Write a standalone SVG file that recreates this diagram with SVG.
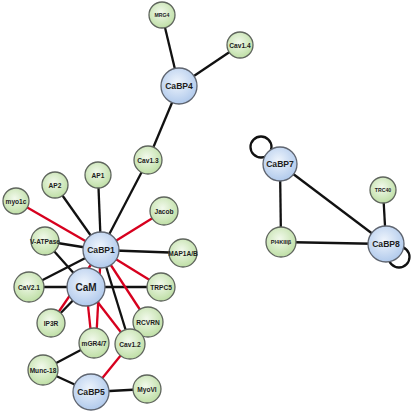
<svg xmlns="http://www.w3.org/2000/svg" width="412" height="412" viewBox="0 0 412 412">
<defs>
<radialGradient id="gG" cx="45%" cy="40%" r="60%">
<stop offset="0" stop-color="#f2f9ec"/>
<stop offset="1" stop-color="#bfdfa6"/>
</radialGradient>
<radialGradient id="gB" cx="45%" cy="40%" r="60%">
<stop offset="0" stop-color="#eef4fc"/>
<stop offset="1" stop-color="#b1caec"/>
</radialGradient>
<style>
.e{stroke:#111;stroke-width:2.3;fill:none}
.r{stroke:#d7001e;stroke-width:2.3;fill:none}
.g{fill:url(#gG);stroke:#5f655d;stroke-width:1.3}
.b{fill:url(#gB);stroke:#5f6570;stroke-width:1.3}
text{font-family:"Liberation Sans",Arial,sans-serif;font-weight:bold;fill:#1c1c1c;text-anchor:middle;dominant-baseline:central}
.s{font-size:6.6px}
.t{font-size:5.2px}
.m{font-size:8.6px}
</style>
</defs>
<g id="edges">
<line class="e" x1="179" y1="86" x2="162" y2="15"/>
<line class="e" x1="179" y1="86" x2="240" y2="45"/>
<line class="e" x1="179" y1="86" x2="148" y2="160"/>
<line class="e" x1="101" y1="250" x2="148" y2="160"/>
<line class="e" x1="101" y1="250" x2="98" y2="175"/>
<line class="e" x1="101" y1="250" x2="55" y2="185"/>
<line class="r" x1="101" y1="250" x2="16" y2="201"/>
<line class="r" x1="101" y1="250" x2="164" y2="211"/>
<line class="e" x1="101" y1="250" x2="45" y2="241"/>
<line class="e" x1="101" y1="250" x2="183" y2="253"/>
<line class="e" x1="101" y1="250" x2="29" y2="287"/>
<line class="e" x1="86" y1="287" x2="45" y2="241"/>
<line class="e" x1="86" y1="287" x2="29" y2="287"/>
<line class="e" x1="86" y1="287" x2="161" y2="287"/>
<line class="r" x1="101" y1="250" x2="161" y2="287"/>
<line class="r" x1="101" y1="250" x2="148" y2="322"/>
<line class="r" x1="101" y1="250" x2="51" y2="323"/>
<line class="e" x1="86" y1="287" x2="51" y2="323"/>
<line class="r" x1="101" y1="250" x2="96" y2="343"/>
<line class="r" x1="86" y1="287" x2="92" y2="343"/>
<line class="r" x1="86" y1="287" x2="130" y2="344"/>
<line class="e" x1="101" y1="250" x2="130" y2="344"/>
<line class="r" x1="130" y1="344" x2="91" y2="392"/>
<line class="e" x1="94" y1="343" x2="43" y2="370"/>
<line class="e" x1="43" y1="370" x2="91" y2="392"/>
<line class="e" x1="91" y1="392" x2="147" y2="389"/>
<line class="e" x1="280" y1="164" x2="281" y2="242"/>
<line class="e" x1="280" y1="164" x2="386" y2="244"/>
<line class="e" x1="281" y1="242" x2="386" y2="244"/>
<line class="e" x1="386" y1="244" x2="383" y2="190"/>
<circle class="e" cx="261" cy="147" r="10.5"/>
<circle class="e" cx="399" cy="257" r="10.5"/>
</g>
<g id="MRG4"><circle class="g" cx="162" cy="15" r="13"/><text class="t" x="162" y="15">MRG4</text></g>
<g id="Cav1.4"><circle class="g" cx="240" cy="45" r="13"/><text class="s" x="240" y="45">Cav1.4</text></g>
<g id="CaBP4"><circle class="b" cx="179" cy="86" r="18"/><text class="m" x="179" y="86">CaBP4</text></g>
<g id="Cav1.3"><circle class="g" cx="148" cy="160" r="14"/><text class="s" x="148" y="160">Cav1.3</text></g>
<g id="AP1"><circle class="g" cx="98" cy="175" r="13"/><text class="s" x="98" y="175">AP1</text></g>
<g id="AP2"><circle class="g" cx="55" cy="185" r="13"/><text class="s" x="55" y="185">AP2</text></g>
<g id="myo1c"><circle class="g" cx="16" cy="201" r="13"/><text class="s" x="16" y="201">myo1c</text></g>
<g id="Jacob"><circle class="g" cx="164" cy="211" r="14"/><text class="s" x="164" y="211">Jacob</text></g>
<g id="V-ATPase"><circle class="g" cx="45" cy="241" r="14"/><text class="s" x="45" y="241">V-ATPase</text></g>
<g id="MAP1AB"><circle class="g" cx="183" cy="253" r="14"/><text class="s" x="183" y="253">MAP1A/B</text></g>
<g id="CaBP1"><circle class="b" cx="101" cy="250" r="18"/><text class="m" x="101" y="250">CaBP1</text></g>
<g id="CaV2.1"><circle class="g" cx="29" cy="287" r="15"/><text class="s" x="29" y="287">CaV2.1</text></g>
<g id="TRPC5"><circle class="g" cx="161" cy="287" r="14"/><text class="s" x="161" y="287">TRPC5</text></g>
<g id="CaM"><circle class="b" cx="86" cy="287" r="19"/><text x="86" y="287" style="font-size:10px">CaM</text></g>
<g id="IP3R"><circle class="g" cx="51" cy="323" r="14"/><text class="s" x="51" y="323">IP3R</text></g>
<g id="RCVRN"><circle class="g" cx="148" cy="322" r="15"/><text class="s" x="148" y="322">RCVRN</text></g>
<g id="mGR47"><circle class="g" cx="94" cy="343" r="15"/><text class="s" x="94" y="343">mGR4/7</text></g>
<g id="Cav1.2"><circle class="g" cx="130" cy="344" r="15"/><text class="s" x="130" y="344">Cav1.2</text></g>
<g id="Munc-18"><circle class="g" cx="43" cy="370" r="15"/><text class="s" x="43" y="370">Munc-18</text></g>
<g id="CaBP5"><circle class="b" cx="91" cy="392" r="18"/><text class="m" x="91" y="392">CaBP5</text></g>
<g id="MyoVI"><circle class="g" cx="147" cy="389" r="14"/><text class="s" x="147" y="389">MyoVI</text></g>
<g id="CaBP7"><circle class="b" cx="280" cy="164" r="17"/><text class="m" x="280" y="164">CaBP7</text></g>
<g id="TRC40"><circle class="g" cx="383" cy="190" r="13"/><text class="t" x="383" y="190">TRC40</text></g>
<g id="PI4KIIIb"><circle class="g" cx="281" cy="242" r="15"/><text x="281" y="242" style="font-size:5.6px">PI4KIIIβ</text></g>
<g id="CaBP8"><circle class="b" cx="386" cy="244" r="18"/><text class="m" x="386" y="244">CaBP8</text></g>
</svg>
